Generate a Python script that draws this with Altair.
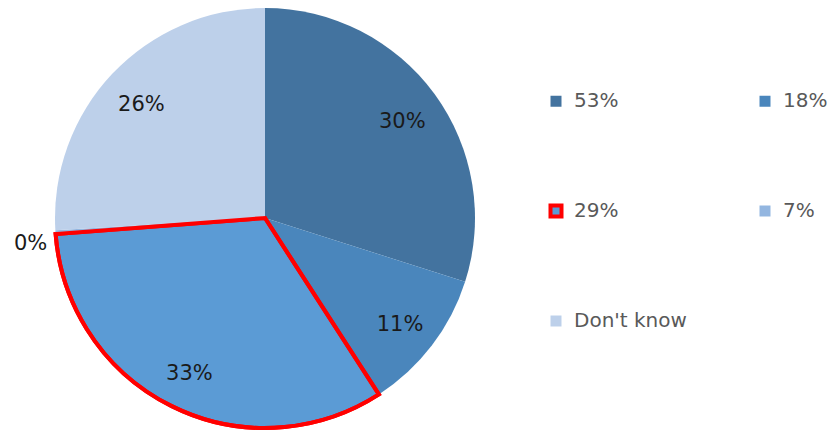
import altair as alt
import pandas as pd

legend_names = ["53%", "18%", "29%", "7%", "Don't know"]
slice_values = [30, 11, 33, 0.3, 26]
slice_labels = ["30%", "11%", "33%", "0%", "26%"]
colors = ["#43739F", "#4A86BC", "#5B9BD5", "#93B6E0", "#BDD0EA"]
outline_colors = ["transparent", "transparent", "#FF0000", "transparent", "transparent"]

df = pd.DataFrame({"cat": legend_names, "value": slice_values, "label": slice_labels})

base = alt.Chart(df).transform_window(idx="row_number()")

theta = alt.Theta("value:Q", stack=True)
order = alt.Order("idx:Q")
highlight = "datum.cat == '29%'"

legend = alt.Legend(
    title=None,
    orient="none",
    legendX=538,
    legendY=83,
    direction="horizontal",
    columns=2,
    columnPadding=64,
    rowPadding=82,
    symbolType="square",
    symbolSize=121,
    symbolStrokeWidth=4,
    labelFont="DejaVu Sans",
    labelFontSize=20,
    labelColor="#595959",
    labelOffset=8,
)

pie = base.mark_arc(strokeWidth=4, strokeJoin="miter").encode(
    theta=theta,
    order=order,
    color=alt.Color("cat:N", scale=alt.Scale(domain=legend_names, range=colors), legend=legend),
    stroke=alt.Stroke("cat:N", scale=alt.Scale(domain=legend_names, range=outline_colors), legend=legend),
    strokeOpacity=alt.condition(highlight, alt.value(1), alt.value(0)),
)

outline = base.mark_arc(fillOpacity=0, stroke="#FF0000", strokeWidth=4, strokeJoin="miter").encode(
    theta=theta,
    order=order,
    strokeOpacity=alt.condition(highlight, alt.value(1), alt.value(0)),
)

labels = base.mark_text(font="DejaVu Sans", fontSize=21, color="#1a1a1a", dy=4).encode(
    theta=theta,
    order=order,
    radius=alt.value(170),
    text=alt.condition("datum.label != '0%'", alt.Text("label:N"), alt.value("")),
)

zero_label = base.mark_text(font="DejaVu Sans", fontSize=21, color="#1a1a1a", dy=10).encode(
    theta=theta,
    order=order,
    radius=alt.value(235),
    text=alt.condition("datum.label == '0%'", alt.Text("label:N"), alt.value("")),
)

chart = alt.layer(pie, outline, labels, zero_label).properties(
    width=514, height=420, padding=0
).configure_view(stroke=None)

chart.save("out.html", embed_options={"renderer": "svg", "actions": False})
